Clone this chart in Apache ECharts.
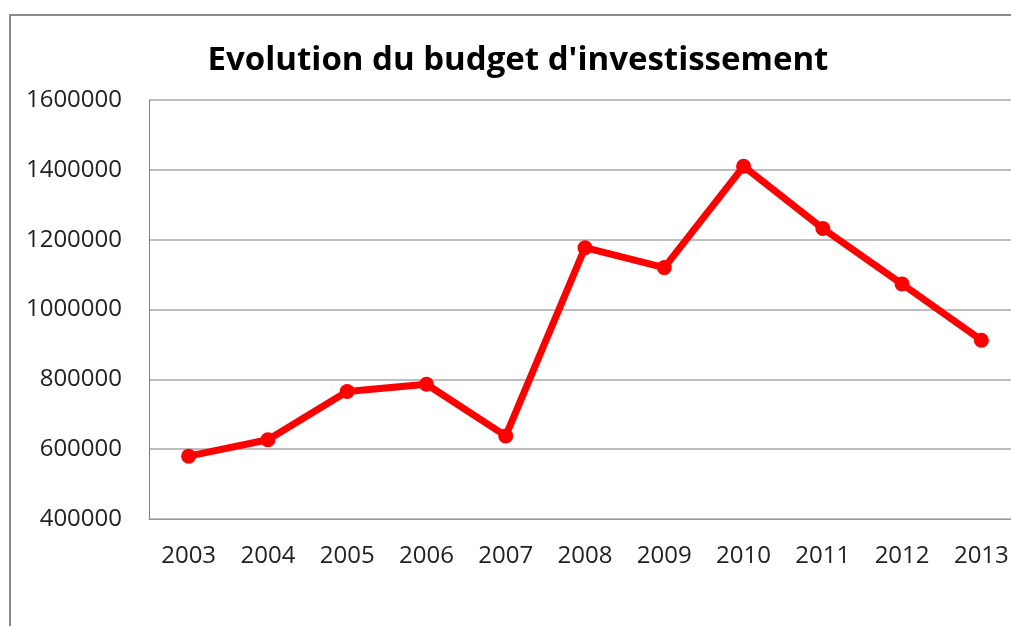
<!DOCTYPE html>
<html>
<head>
<meta charset="utf-8">
<script src="https://cdn.jsdelivr.net/npm/echarts@6/dist/echarts.min.js"></script>
<style>
  html, body { margin: 0; padding: 0; background: #fff; overflow: hidden; }
  #chart { width: 1021px; height: 626px; }
</style>
</head>
<body>
<div id="chart"></div>
<script>
// données
const years = ['2003', '2004', '2005', '2006', '2007', '2008', '2009', '2010', '2011', '2012', '2013'];
const budget = [580000, 627000, 765000, 786000, 638000, 1177000, 1120000, 1410000, 1232000, 1073000, 912000];
const yTicks = { min: 400000, max: 1600000, step: 200000 };

// le cadre dépasse à droite de la fenêtre, comme sur la capture
const chart = echarts.init(document.getElementById('chart'));

chart.setOption({
  backgroundColor: '#fff',
  animation: false,
  title: {
    text: "Evolution du budget d'investissement",
    left: 513,
    top: 39,
    textAlign: 'center',
    textStyle: { fontFamily: 'Open Sans', fontWeight: 'bold', fontSize: 33, color: '#000' }
  },
  graphic: [{
    type: 'rect',
    shape: { x: 10, y: 15, width: 1100, height: 700 },
    style: { fill: 'none', stroke: '#8a8a8a', lineWidth: 2 },
    z: -1
  }],
  grid: { left: 149, top: 100, right: 0, height: 419, containLabel: false },
  xAxis: {
    type: 'category',
    data: years,
    boundaryGap: true,
    axisLine: { lineStyle: { color: '#9a9a9a', width: 1 } },
    axisTick: { show: false },
    axisLabel: { color: '#222', fontFamily: 'Open Sans', fontSize: 24, margin: 25 }
  },
  yAxis: {
    type: 'value',
    min: yTicks.min,
    max: yTicks.max,
    interval: yTicks.step,
    axisLine: { show: true, lineStyle: { color: '#b06a6a', width: 1 } },
    axisTick: { show: false },
    axisLabel: {
      color: '#222', fontFamily: 'Open Sans', fontSize: 24, margin: 27,
      formatter: (v) => String(v)
    },
    splitLine: { lineStyle: { color: '#a8a8a8', width: 1.5 } }
  },
  series: [{
    type: 'line',
    data: budget,
    symbol: 'circle',
    symbolSize: 15,
    lineStyle: { color: '#ff0000', width: 7 },
    itemStyle: { color: '#ff0000' }
  }]
});
</script>
</body>
</html>
